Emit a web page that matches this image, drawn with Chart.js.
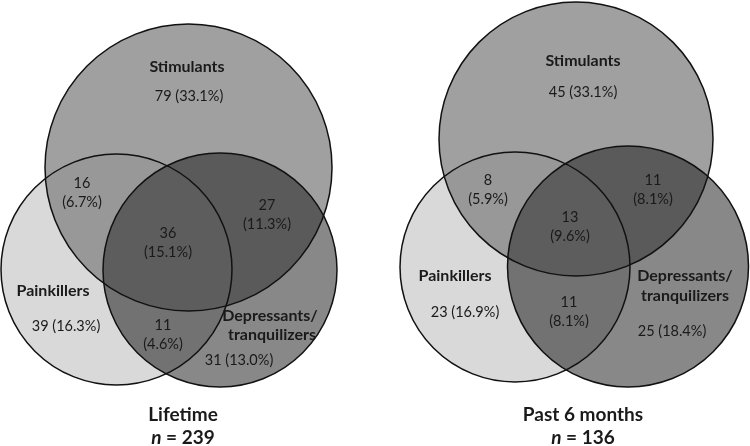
<!DOCTYPE html>
<html>
<head>
<meta charset="utf-8">
<script src="https://cdn.jsdelivr.net/npm/chart.js@4/dist/chart.umd.min.js"></script>
<style>
    body { margin: 0; background: #ffffff; }
    canvas { display: block; }
</style>
</head>
<body>
<canvas id="venn" width="750" height="446"></canvas>
<script>
// ------------------------------ Datos ------------------------------
const grupos = ["Stimulants", "Painkillers", "Depressants/tranquilizers"];
const paneles = ["Lifetime", "Past 6 months"];
const tamanosMuestra = [239, 136];

// regiones: S, P, D, S+P, S+D, P+D, S+P+D
const regiones = ["S", "P", "D", "SP", "SD", "PD", "SPD"];
const conteosLifetime = [79, 39, 31, 16, 27, 11, 36];
const porcentajesLifetime = [33.1, 16.3, 13.0, 6.7, 11.3, 4.6, 15.1];
const conteosPasado = [45, 23, 25, 8, 11, 11, 13];
const porcentajesPasado = [33.1, 16.9, 18.4, 5.9, 8.1, 8.1, 9.6];

// circulos (unidades del diagrama): centro x, centro y, radio -> S, P, D
const circulosX = [[188.5, 116.5, 220], [576, 515, 628]];
const circulosY = [[167.5, 269.5, 270], [139, 267, 266.5]];
const circulosR = [[143.5, 115.5, 117], [137, 115, 120.5]];

// ------------------------------ Estilos ------------------------------
const coloresRegion = {
    S: "#a0a0a0", P: "#d9d9d9", D: "#888888",
    SP: "#989898", SD: "#5a5a5a", PD: "#727272", SPD: "#5d5d5d"
};
const fuente = "Lato, 'Open Sans', sans-serif";
const colorTexto = "#1a1a1a";

// posiciones de etiquetas por region (mismo orden que regiones)
const posEtiquetas = [
    [[189, 96], [66, 326], [239, 360], [82, 183], [267, 205], [163, 325], [168, 233]],
    [[583, 92], [465, 312], [672, 331], [488, 180], [653, 180], [569, 302], [570, 217]]
];
// regiones con el numero y el porcentaje en dos lineas
const dosLineas = [false, false, false, true, true, true, true];
const posNombres = [
    [[187, 67], [53, 291], [270, 316]],
    [[583, 61], [455, 276], [685, 276]]
];
const posTitulos = [[183, 415], [583, 415]];

const conteos = [conteosLifetime, conteosPasado];
const porcentajes = [porcentajesLifetime, porcentajesPasado];

// ------------------------------ Plugin de relleno de regiones ------------------------------
function trazarCirculo(ctx, c) {
    ctx.beginPath();
    ctx.arc(c.x, c.y, c.r, 0, Math.PI * 2);
}

const rellenoRegiones = {
    id: "rellenoRegiones",
    beforeDatasetsDraw(chart) {
        const ctx = chart.ctx;
        chart.data.datasets.forEach((ds, i) => {
            const meta = chart.getDatasetMeta(i);
            const c = meta.data.map(el => ({ x: el.x, y: el.y, r: el.options.radius }));
            const [S, P, D] = c;

            ctx.save();
            // regiones simples
            [[S, "S"], [P, "P"], [D, "D"]].forEach(([circ, k]) => {
                trazarCirculo(ctx, circ);
                ctx.fillStyle = coloresRegion[k];
                ctx.fill();
            });
            // pares
            [[S, P, "SP"], [S, D, "SD"], [P, D, "PD"]].forEach(([a, b, k]) => {
                ctx.save();
                trazarCirculo(ctx, a);
                ctx.clip();
                trazarCirculo(ctx, b);
                ctx.fillStyle = coloresRegion[k];
                ctx.fill();
                ctx.restore();
            });
            // triple
            ctx.save();
            trazarCirculo(ctx, S);
            ctx.clip();
            trazarCirculo(ctx, P);
            ctx.clip();
            trazarCirculo(ctx, D);
            ctx.fillStyle = coloresRegion.SPD;
            ctx.fill();
            ctx.restore();
            ctx.restore();
        });
    }
};

// ------------------------------ Plugin de textos ------------------------------
const textos = {
    id: "textos",
    afterDatasetsDraw(chart) {
        const ctx = chart.ctx;
        const xs = chart.scales.x;
        const ys = chart.scales.y;
        const px = v => xs.getPixelForValue(v);
        const py = v => ys.getPixelForValue(v);

        ctx.save();
        ctx.fillStyle = colorTexto;
        ctx.textAlign = "center";
        ctx.textBaseline = "middle";

        paneles.forEach((panel, p) => {
            // nombres de grupos
            ctx.font = "bold 16px " + fuente;
            grupos.forEach((g, i) => {
                const [x, y] = posNombres[p][i];
                if (g.includes("/")) {
                    const partes = g.split("/");
                    ctx.fillText(partes[0] + "/", px(x), py(y));
                    ctx.fillText(partes[1], px(x + (p === 0 ? 2 : 0)), py(y + (p === 0 ? 19 : 20)));
                } else {
                    ctx.fillText(g, px(x), py(y));
                }
            });

            // conteos y porcentajes
            ctx.font = "14.5px " + fuente;
            regiones.forEach((r, i) => {
                const [x, y] = posEtiquetas[p][i];
                const n = conteos[p][i];
                const pct = "(" + porcentajes[p][i].toFixed(1) + "%)";
                if (dosLineas[i]) {
                    ctx.fillText(String(n), px(x), py(y));
                    ctx.fillText(pct, px(x), py(y + 19));
                } else {
                    ctx.fillText(n + " " + pct, px(x), py(y));
                }
            });

            // titulo y n
            const [tx, ty] = posTitulos[p];
            ctx.font = "bold 19px " + fuente;
            ctx.fillText(panel, px(tx), py(ty));

            const resto = " = " + tamanosMuestra[p];
            ctx.font = "bold 19px " + fuente;
            const wResto = ctx.measureText(resto).width;
            ctx.font = "italic bold 19px " + fuente;
            const wN = ctx.measureText("n").width;
            const inicio = px(tx) - (wN + wResto) / 2;
            ctx.textAlign = "left";
            ctx.fillText("n", inicio, py(ty + 23));
            ctx.font = "bold 19px " + fuente;
            ctx.fillText(resto, inicio + wN, py(ty + 23));
            ctx.textAlign = "center";
        });
        ctx.restore();
    }
};

// ------------------------------ Grafico ------------------------------
const datasets = paneles.map((panel, p) => ({
    label: panel,
    data: grupos.map((g, i) => ({ x: circulosX[p][i], y: circulosY[p][i], r: circulosR[p][i] })),
    pointStyle: "circle",
    pointRadius: (context) => {
        const raw = context.raw;
        const xs = context.chart.scales.x;
        if (!raw || !xs) return 0;
        return Math.abs(xs.getPixelForValue(raw.x + raw.r) - xs.getPixelForValue(raw.x));
    },
    backgroundColor: "rgba(0,0,0,0)",
    borderColor: "#111111",
    borderWidth: 1.5,
    clip: false
}));

new Chart(document.getElementById("venn"), {
    type: "scatter",
    data: { datasets: datasets },
    options: {
        responsive: false,
        animation: false,
        events: [],
        layout: { padding: 0 },
        scales: {
            x: { type: "linear", min: 0, max: 750, display: false },
            y: { type: "linear", min: 0, max: 446, reverse: true, display: false }
        },
        plugins: {
            legend: { display: false },
            tooltip: { enabled: false }
        }
    },
    plugins: [rellenoRegiones, textos]
});
</script>
</body>
</html>
